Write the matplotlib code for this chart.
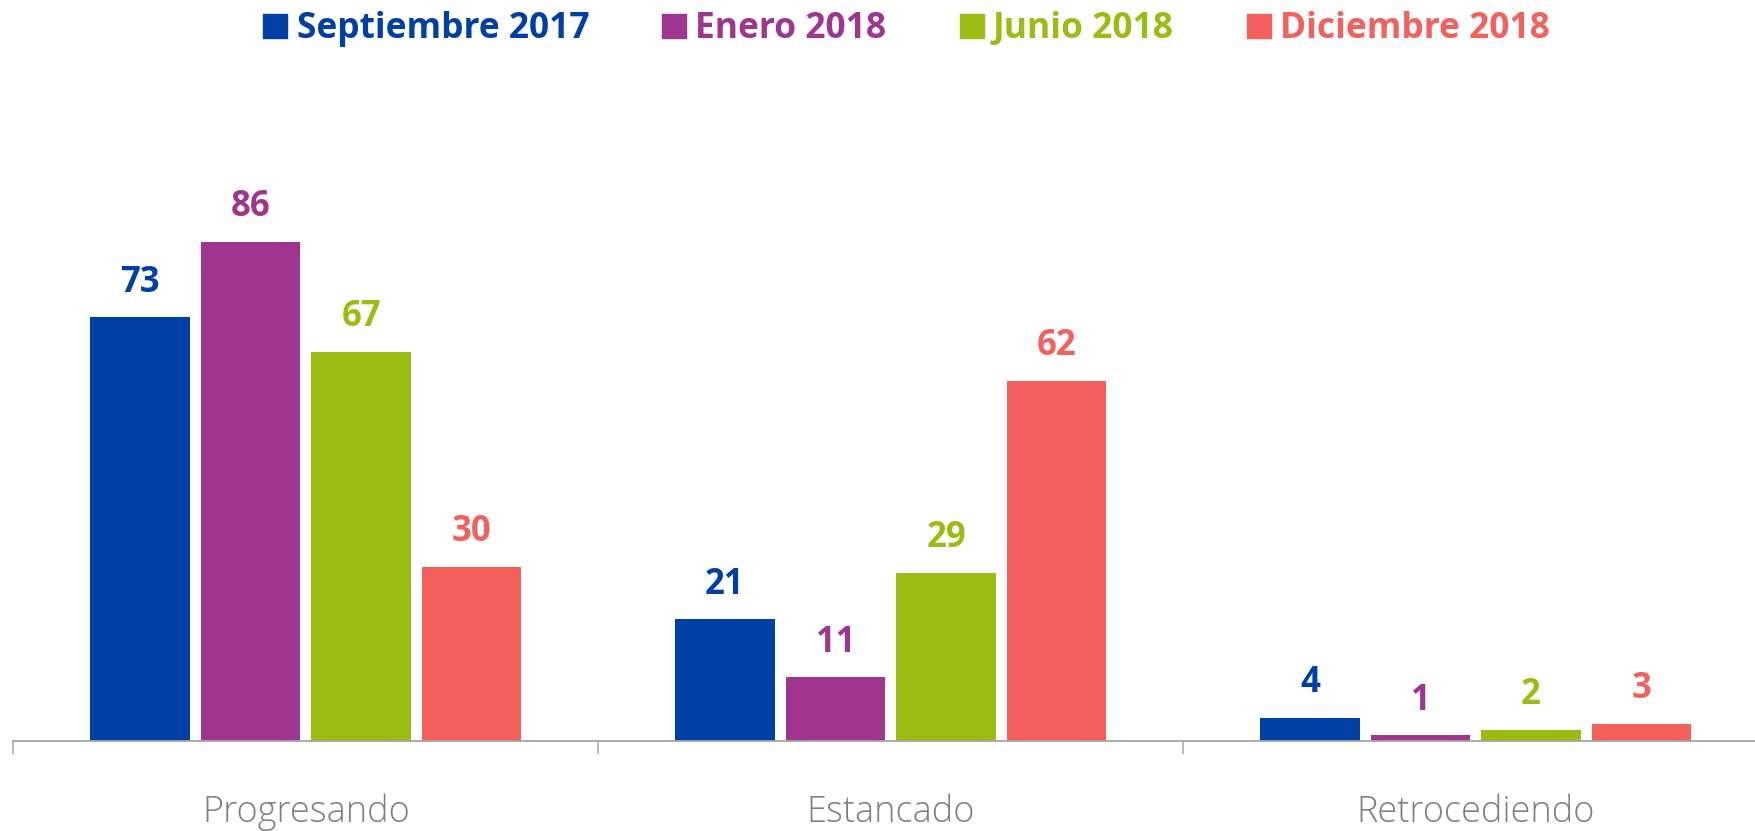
import numpy as np
from matplotlib import pyplot as plt
from matplotlib.lines import Line2D

categories = ['Progresando', 'Estancado', 'Retrocediendo']
series = ['Septiembre 2017', 'Enero 2018', 'Junio 2018', 'Diciembre 2018']
values = [
    [73, 21, 4],
    [86, 11, 1],
    [67, 29, 2],
    [30, 62, 3],
]
colors = ['#003FA6', '#9E358F', '#9BBC13', '#F4605C']

plt.rcParams['font.family'] = ['Open Sans', 'DejaVu Sans']

fig = plt.figure(figsize=(17.55, 8.31), dpi=100)
ax = fig.add_axes([0.0076, 0.108, 1.0, 0.699])

x = np.arange(len(categories))
bar_w = 0.170
step = 0.189
for i, (name, vals, c) in enumerate(zip(series, values, colors)):
    pos = x + (i - 1.5) * step
    ax.bar(pos, vals, width=bar_w, color=c, label=name)
    for p, v in zip(pos, vals):
        ax.annotate(str(v), (p, v), xytext=(0, 12), textcoords='offset points',
                    ha='center', va='bottom', color=c, fontsize=25,
                    fontweight='bold')

ax.set_xlim(-0.5, 2.5)
ax.set_ylim(0, 100)
ax.set_yticks([])
for s in ['top', 'right', 'left']:
    ax.spines[s].set_visible(False)
ax.spines['bottom'].set_color('#A6A6A6')
ax.spines['bottom'].set_linewidth(1.3)

# category labels between boundary ticks
ax.set_xticks([-0.5, 0.5, 1.5, 2.5])
ax.set_xticklabels([])
ax.tick_params(axis='x', direction='out', length=9.5, width=1.1, color='#A6A6A6')
for xi, cat in zip(x, categories):
    ax.text(xi, -12.3, cat, ha='center', va='center', fontsize=26,
            color='#808080', fontweight='light')

handles = [Line2D([], [], marker='s', linestyle='none', markersize=17,
                  markerfacecolor=c, markeredgecolor=c) for c in colors]
leg = fig.legend(handles, series, loc='center', bbox_to_anchor=(0.515, 0.965),
                 ncol=4, frameon=False, fontsize=25.5, handletextpad=0.1,
                 columnspacing=1.9, handlelength=1.0)
for t, c in zip(leg.get_texts(), colors):
    t.set_color(c)
    t.set_fontweight('bold')

fig.savefig('out.png', dpi=100)
